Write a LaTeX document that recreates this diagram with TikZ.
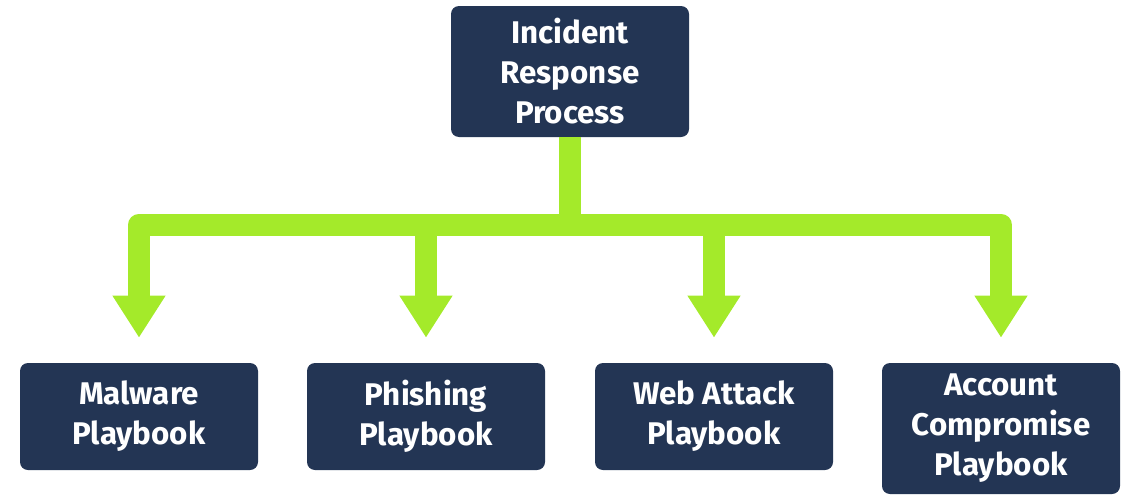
\documentclass[tikz,border=0pt]{standalone}
\usepackage{fontspec}
\setmainfont{Fira Sans}
\usetikzlibrary{arrows.meta}
\definecolor{navy}{HTML}{233554}
\definecolor{lime}{HTML}{A4EA2A}
\begin{document}
\begin{tikzpicture}[x=0.75pt,y=-0.75pt,
  box/.style={fill=navy, rounded corners=6pt, text=white,
    font=\bfseries\fontsize{23.5}{30}\selectfont, align=center,
    minimum width=178.5pt, inner sep=0pt},
  small/.style={box, minimum height=80.25pt},
  tall/.style={box, minimum height=98.25pt},
  conn/.style={draw=lime, line width=16.5pt, line join=round,
    -{Triangle[width=37.5pt,length=31.5pt]}, shorten >=18.75pt}]
\useasboundingbox (0,0) rectangle (1140,500);
\node[tall]  (top) at (570,71.5)   {Incident\\Response\\Process};
\node[small] (mal) at (139,416.5)  {Malware\\Playbook};
\node[small] (phi) at (426,416.5)  {Phishing\\Playbook};
\node[small] (web) at (714,416.5)  {Web Attack\\Playbook};
\node[tall]  (acc) at (1001,428.5) {Account\\Compromise\\Playbook};
\foreach \t in {mal,phi,web,acc}
  \draw[conn] (top.south) -- ++(0,87.5) -| (\t.north);
\end{tikzpicture}
\end{document}
